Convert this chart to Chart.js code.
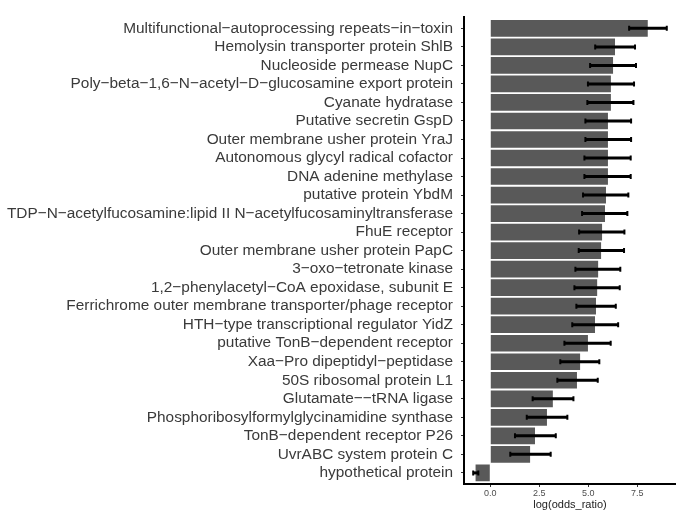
<!DOCTYPE html>
<html>
<head>
<meta charset="utf-8">
<script src="https://cdn.jsdelivr.net/npm/chart.js@4/dist/chart.umd.min.js"></script>
<style>
  html, body { margin: 0; padding: 0; background: #fff; }
  #wrap { width: 676px; height: 512px; }
</style>
</head>
<body>
<div id="wrap"><canvas id="chart" width="676" height="512"></canvas></div>
<script>
// categories, top to bottom
const categories = [
  'Multifunctional−autoprocessing repeats−in−toxin',
  'Hemolysin transporter protein ShlB',
  'Nucleoside permease NupC',
  'Poly−beta−1,6−N−acetyl−D−glucosamine export protein',
  'Cyanate hydratase',
  'Putative secretin GspD',
  'Outer membrane usher protein YraJ',
  'Autonomous glycyl radical cofactor',
  'DNA adenine methylase',
  'putative protein YbdM',
  'TDP−N−acetylfucosamine:lipid II N−acetylfucosaminyltransferase',
  'FhuE receptor',
  'Outer membrane usher protein PapC',
  '3−oxo−tetronate kinase',
  '1,2−phenylacetyl−CoA epoxidase, subunit E',
  'Ferrichrome outer membrane transporter/phage receptor',
  'HTH−type transcriptional regulator YidZ',
  'putative TonB−dependent receptor',
  'Xaa−Pro dipeptidyl−peptidase',
  '50S ribosomal protein L1',
  'Glutamate−−tRNA ligase',
  'Phosphoribosylformylglycinamidine synthase',
  'TonB−dependent receptor P26',
  'UvrABC system protein C',
  'hypothetical protein'
];

const logOdds = [8.03, 6.36, 6.26, 6.15, 6.15, 6.0, 6.0, 6.0, 6.0, 5.9, 5.85, 5.70, 5.65,
                 5.5, 5.45, 5.39, 5.34, 4.98, 4.58, 4.42, 3.19, 2.89, 2.28, 2.03, -0.75];
const ciLow  = [7.08, 5.35, 5.09, 4.98, 4.95, 4.85, 4.85, 4.80, 4.80, 4.73, 4.68, 4.53, 4.51,
                4.34, 4.29, 4.39, 4.18, 3.78, 3.57, 3.42, 2.16, 1.86, 1.26, 1.02, -0.87];
const ciHigh = [9.0, 7.38, 7.43, 7.33, 7.30, 7.18, 7.18, 7.16, 7.16, 7.04, 6.99, 6.84, 6.82,
                6.63, 6.60, 6.40, 6.52, 6.14, 5.56, 5.48, 4.24, 3.93, 3.34, 3.08, -0.61];

const xTicks = [0, 2.5, 5, 7.5];

const FONT = "'Liberation Sans', Arial, Helvetica, sans-serif";

// error bars drawn on top of the bars
const errorBars = {
  id: 'errorBars',
  afterDatasetsDraw(chart) {
    const { ctx, scales: { x, y } } = chart;
    ctx.save();
    ctx.strokeStyle = '#000';
    categories.forEach((c, i) => {
      const py = y.getPixelForValue(i);
      const x0 = x.getPixelForValue(ciLow[i]);
      const x1 = x.getPixelForValue(ciHigh[i]);
      ctx.lineWidth = 3;
      ctx.beginPath();
      ctx.moveTo(x0, py);
      ctx.lineTo(x1, py);
      ctx.stroke();
      ctx.lineWidth = 2;
      ctx.beginPath();
      ctx.moveTo(x0, py - 2.5); ctx.lineTo(x0, py + 2.5);
      ctx.moveTo(x1, py - 2.5); ctx.lineTo(x1, py + 2.5);
      ctx.stroke();
    });
    ctx.restore();
  }
};

new Chart(document.getElementById('chart'), {
  type: 'bar',
  data: {
    labels: categories,
    datasets: [{
      data: logOdds.map((v, i) => ({ x: v, y: i })),
      backgroundColor: '#595959',
      borderWidth: 0,
      barPercentage: 0.9,
      categoryPercentage: 1.0
    }]
  },
  options: {
    indexAxis: 'y',
    responsive: false,
    animation: false,
    layout: { padding: { top: 4, right: 0, bottom: 0, left: 0 } },
    plugins: { legend: { display: false }, tooltip: { enabled: false } },
    scales: {
      x: {
        type: 'linear',
        min: -1.34,
        max: 9.47,
        afterBuildTicks: (s) => { s.ticks = xTicks.map(v => ({ value: v })); },
        afterFit: (s) => { s.height = 28; },
        grid: { drawOnChartArea: false, drawTicks: true, tickLength: 3, color: '#333' },
        border: { display: true, color: '#000', width: 2 },
        ticks: {
          padding: 1,
          color: '#4d4d4d',
          font: { family: FONT, size: 9 },
          maxRotation: 0,
          callback: (v) => Number(v).toFixed(1)
        },
        title: {
          display: true,
          text: 'log(odds_ratio)',
          color: '#222',
          font: { family: FONT, size: 11 },
          padding: { top: 0, bottom: 0 }
        }
      },
      y: {
        type: 'linear',
        reverse: true,
        offset: false,
        min: -0.6,
        max: 24.6,
        afterBuildTicks: (s) => { s.ticks = categories.map((c, i) => ({ value: i })); },
        afterFit: (s) => { s.width = 464; },
        grid: { offset: false, drawOnChartArea: false, drawTicks: true, tickLength: 3, color: '#333' },
        border: { display: true, color: '#000', width: 2 },
        ticks: {
          autoSkip: false,
          padding: 8,
          color: '#3a3a3a',
          font: { family: FONT, size: 15.4 },
          callback: (v) => categories[v]
        }
      }
    }
  },
  plugins: [errorBars]
});
</script>
</body>
</html>
